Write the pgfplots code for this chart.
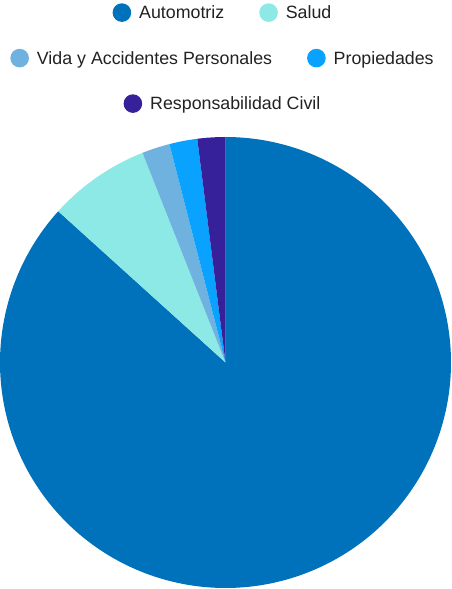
\documentclass[border=0pt]{standalone}
\usepackage{pgfplots}
\pgfplotsset{compat=1.18}
\usepackage{pgfplotstable}
\usepackage{fontspec}
\setmainfont{Liberation Sans}
\definecolor{cA}{HTML}{0072BC}
\definecolor{cS}{HTML}{8CE9E6}
\definecolor{cV}{HTML}{6FB2DF}
\definecolor{cP}{HTML}{0AA2FF}
\definecolor{cR}{HTML}{36219B}
\definecolor{txt}{HTML}{222222}
\pgfplotstableread{
name value
Automotriz 86.7
Salud 7.3
Vida 2.0
Propiedades 2.0
Responsabilidad 2.0
}\piedata
\newcommand{\legcirc}[1]{\tikz[baseline={(0,-6.4pt)}]\fill[#1] (0,0) circle (9.3pt);}
\begin{document}
\begin{tikzpicture}
\pgfplotstablegetelem{0}{value}\of\piedata \let\vA\pgfplotsretval
\pgfplotstablegetelem{1}{value}\of\piedata \let\vS\pgfplotsretval
\pgfplotstablegetelem{2}{value}\of\piedata \let\vV\pgfplotsretval
\pgfplotstablegetelem{3}{value}\of\piedata \let\vP\pgfplotsretval
\pgfplotstablegetelem{4}{value}\of\piedata \let\vR\pgfplotsretval
\pgfmathsetmacro{\aA}{90-3.6*\vA}
\pgfmathsetmacro{\aS}{\aA-3.6*\vS}
\pgfmathsetmacro{\aV}{\aS-3.6*\vV}
\pgfmathsetmacro{\aP}{\aV-3.6*\vP}
\pgfmathsetmacro{\aR}{\aP-3.6*\vR}
\def\cx{225.5}\def\cy{226.5}\def\rr{225.5}
\begin{axis}[name=ax,x=1pt,y=1pt,xmin=0,xmax=451,ymin=0,ymax=589,hide axis,
  scale only axis,clip=false]
\addplot[fill=cA,draw=none,domain={\aA}:90,samples=300,variable=\t]
  ({\cx+\rr*cos(\t)},{\cy+\rr*sin(\t)}) -- (\cx,\cy) -- cycle;
\addplot[fill=cS,draw=none,domain={\aS}:{\aA},samples=40,variable=\t]
  ({\cx+\rr*cos(\t)},{\cy+\rr*sin(\t)}) -- (\cx,\cy) -- cycle;
\addplot[fill=cV,draw=none,domain={\aV}:{\aS},samples=15,variable=\t]
  ({\cx+\rr*cos(\t)},{\cy+\rr*sin(\t)}) -- (\cx,\cy) -- cycle;
\addplot[fill=cP,draw=none,domain={\aP}:{\aV},samples=15,variable=\t]
  ({\cx+\rr*cos(\t)},{\cy+\rr*sin(\t)}) -- (\cx,\cy) -- cycle;
\addplot[fill=cR,draw=none,domain={\aR}:{\aP},samples=15,variable=\t]
  ({\cx+\rr*cos(\t)},{\cy+\rr*sin(\t)}) -- (\cx,\cy) -- cycle;
\node[anchor=base,text=txt,font=\fontsize{17.8}{20}\selectfont,inner sep=0pt] at (axis cs:222,570)
  {\legcirc{cA}\hspace{8pt}Automotriz\hspace{35pt}\legcirc{cS}\hspace{8pt}Salud};
\node[anchor=base,text=txt,font=\fontsize{17.8}{20}\selectfont,inner sep=0pt] at (axis cs:222,524.5)
  {\legcirc{cV}\hspace{8pt}Vida y Accidentes Personales\hspace{35pt}\legcirc{cP}\hspace{8pt}Propiedades};
\node[anchor=base,text=txt,font=\fontsize{17.8}{20}\selectfont,inner sep=0pt] at (axis cs:222,479)
  {\legcirc{cR}\hspace{8pt}Responsabilidad Civil};
\end{axis}
\pgfresetboundingbox
\path (ax.south west) rectangle (ax.north east);
\end{tikzpicture}
\end{document}
